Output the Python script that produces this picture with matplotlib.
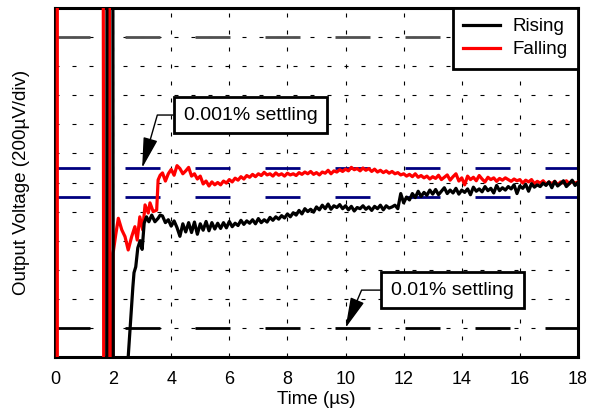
import numpy as np
import matplotlib
matplotlib.use('Agg')
import matplotlib.pyplot as plt

plt.rcParams['font.family'] = ['Liberation Sans', 'DejaVu Sans']

# transient part (off-scale spikes go beyond the axes)
rise_t0 = [1.60, 1.78, 1.79, 1.99, 2.01, 2.40, 2.52, 2.68, 2.72, 2.78, 2.85, 2.93, 3.00,
           3.07, 3.15, 3.23, 3.33, 3.44, 3.55, 3.62]
rise_y0 = [-3, -3, 15, 15, -3, -3, 0.0, 2.4, 2.9, 3.1, 3.75, 4.0, 3.7,
           4.6, 4.82, 4.65, 4.88, 4.65, 4.77, 4.88]
fall_t0 = [0.08, 0.08, 1.66, 1.68, 1.81, 1.83, 1.87, 1.89, 1.99, 2.00, 2.09, 2.18, 2.30,
           2.41, 2.52, 2.64, 2.75, 2.83, 2.92, 3.02, 3.10, 3.21, 3.27, 3.38, 3.50, 3.55, 3.62]
fall_y0 = [-3, 15, 15, -3, -3, 15, 15, -3, -3, 3.57, 4.2, 4.77, 4.37,
           4.14, 3.68, 4.14, 4.48, 4.02, 4.82, 4.37, 5.23, 4.95, 5.30, 5.00, 5.05, 6.09, 6.25]

# settled part, sampled every 0.1 us from 3.7 to 18.0
t_start, t_step = 3.7, 0.1
rise_y1 = [4.85, 4.62, 4.72, 4.50, 4.68, 4.45, 4.15, 4.58, 4.30, 4.62,
           4.28, 4.64, 4.22, 4.58, 4.36, 4.66, 4.34, 4.62, 4.40, 4.60,
           4.42, 4.62, 4.44, 4.66, 4.48, 4.60, 4.52, 4.70, 4.56, 4.68,
           4.60, 4.72, 4.58, 4.76, 4.62, 4.72, 4.64, 4.80, 4.70, 4.82,
           4.74, 4.86, 4.78, 4.92, 4.82, 4.96, 4.88, 5.04, 4.92, 5.10,
           5.00, 5.08, 4.98, 5.16, 5.06, 5.22, 5.10, 5.26, 5.08, 5.20,
           5.14, 5.24, 5.10, 5.20, 5.06, 5.18, 5.02, 5.14, 5.10, 5.20,
           5.08, 5.16, 5.04, 5.18, 5.10, 5.22, 5.06, 5.20, 5.12, 5.16,
           5.22, 5.10, 5.62, 5.30, 5.50, 5.40, 5.62, 5.48, 5.70, 5.52,
           5.66, 5.56, 5.74, 5.60, 5.76, 5.58, 5.70, 5.82, 5.62, 5.74,
           5.64, 5.80, 5.60, 5.74, 5.66, 5.78, 5.58, 5.84, 5.70, 5.78,
           5.68, 5.86, 5.72, 5.80, 5.64, 5.90, 5.72, 5.82, 5.74, 5.86,
           5.78, 5.92, 5.62, 5.88, 5.80, 5.94, 5.70, 5.96, 5.84, 5.92,
           5.86, 5.98, 5.90, 6.02, 5.82, 6.04, 5.88, 5.96, 6.06, 5.86,
           5.96, 6.08, 5.90, 6.00]
fall_y1 = [6.33, 6.05, 6.30, 6.45, 6.25, 6.58, 6.48, 6.30, 6.40, 6.52,
           6.22, 6.30, 6.12, 6.22, 5.95, 6.05, 5.88, 6.02, 5.92, 6.00,
           5.92, 6.05, 5.98, 6.10, 6.02, 6.15, 6.08, 6.20, 6.12, 6.24,
           6.18, 6.28, 6.20, 6.30, 6.24, 6.35, 6.26, 6.30, 6.22, 6.33,
           6.25, 6.30, 6.22, 6.32, 6.26, 6.30, 6.24, 6.34, 6.28, 6.36,
           6.30, 6.38, 6.28, 6.34, 6.26, 6.36, 6.32, 6.42, 6.30, 6.40,
           6.36, 6.44, 6.38, 6.46, 6.40, 6.52, 6.44, 6.48, 6.40, 6.50,
           6.42, 6.48, 6.38, 6.46, 6.36, 6.42, 6.34, 6.40, 6.32, 6.38,
           6.30, 6.34, 6.26, 6.30, 6.22, 6.28, 6.20, 6.30, 6.18, 6.24,
           6.16, 6.22, 6.12, 6.20, 6.14, 6.25, 6.10, 6.18, 6.26, 6.08,
           6.20, 6.30, 6.05, 6.16, 5.92, 6.22, 6.10, 6.18, 6.06, 6.24,
           6.12, 6.02, 6.18, 6.10, 6.16, 6.04, 6.14, 6.08, 6.16, 6.10,
           6.04, 6.12, 6.06, 6.10, 5.98, 6.08, 6.02, 6.10, 5.96, 6.04,
           5.98, 6.06, 5.94, 6.02, 5.96, 6.04, 5.92, 6.02, 5.98, 6.06,
           5.96, 6.04, 5.98, 6.02]

# settling bands (divisions)
band_001 = [1, 11]      # 0.01 %
band_0001 = [5.5, 6.5]  # 0.001 %

t1 = t_start + t_step * np.arange(len(rise_y1))
rise_t = np.concatenate([rise_t0, t1])
rise_y = np.concatenate([rise_y0, rise_y1])
fall_t = np.concatenate([fall_t0, t1])
fall_y = np.concatenate([fall_y0, fall_y1])

fig = plt.figure(figsize=(5.95, 4.11), dpi=100)
ax = fig.add_axes([0.0924, 0.1314, 0.879, 0.8491])

ax.set_xlim(0, 18)
ax.set_ylim(0, 12)
ax.set_xticks(range(0, 19, 2))
ax.set_yticks(range(0, 13))
ax.set_yticklabels([])
ax.tick_params(length=0, labelsize=13, pad=10)
ax.grid(True, color='black', linewidth=0.8, linestyle=(0, (3.6, 11.7)))
ax.set_axisbelow(True)
for s in ax.spines.values():
    s.set_linewidth(2.2)

dash = (0, (12.6, 12.6))
ax.plot([0, 18], [band_001[0]] * 2, color='black', lw=2, linestyle=dash, zorder=2)
ax.plot([0, 18], [band_001[1]] * 2, color='#505050', lw=2, linestyle=dash, zorder=2)
for yb in band_0001:
    ax.plot([0, 18], [yb] * 2, color='#000080', lw=2, linestyle=dash, zorder=2)

l_fall, = ax.plot(fall_t, fall_y, color='red', lw=2.3, zorder=3)
l_rise, = ax.plot(rise_t, rise_y, color='black', lw=2.3, zorder=4)

leg = ax.legend([l_rise, l_fall], ['Rising', 'Falling'], loc='upper right',
                fontsize=13.5, fancybox=False, edgecolor='black', framealpha=1,
                borderaxespad=0, handlelength=2.0, handletextpad=0.65,
                labelspacing=0.3, borderpad=0.55)
leg.get_frame().set_linewidth(2)
for h in leg.get_lines():
    h.set_linewidth(2.3)

box = dict(boxstyle='square,pad=0.5', fc='white', ec='black', lw=2)
arrow = dict(arrowstyle='-|>,head_length=1.9,head_width=0.45', color='black',
             lw=1, mutation_scale=10, shrinkA=0, shrinkB=0)
ax.annotate('0.001% settling', xy=(3.0, 6.5), xytext=(6.74, 8.32),
            ha='center', va='center', fontsize=14, bbox=box, zorder=6,
            arrowprops=dict(connectionstyle='angle,angleA=0,angleB=74,rad=0', **arrow))
ax.annotate('0.01% settling', xy=(10.0, 1.0), xytext=(13.68, 2.30),
            ha='center', va='center', fontsize=14, bbox=box, zorder=6,
            arrowprops=dict(connectionstyle='angle,angleA=0,angleB=67,rad=0', **arrow))

ax.set_xlabel('Time (µs)', fontsize=13.5, labelpad=2)
ax.set_ylabel('Output Voltage (200µV/div)', fontsize=13.5, labelpad=8)

fig.savefig('out.png', dpi=100)
